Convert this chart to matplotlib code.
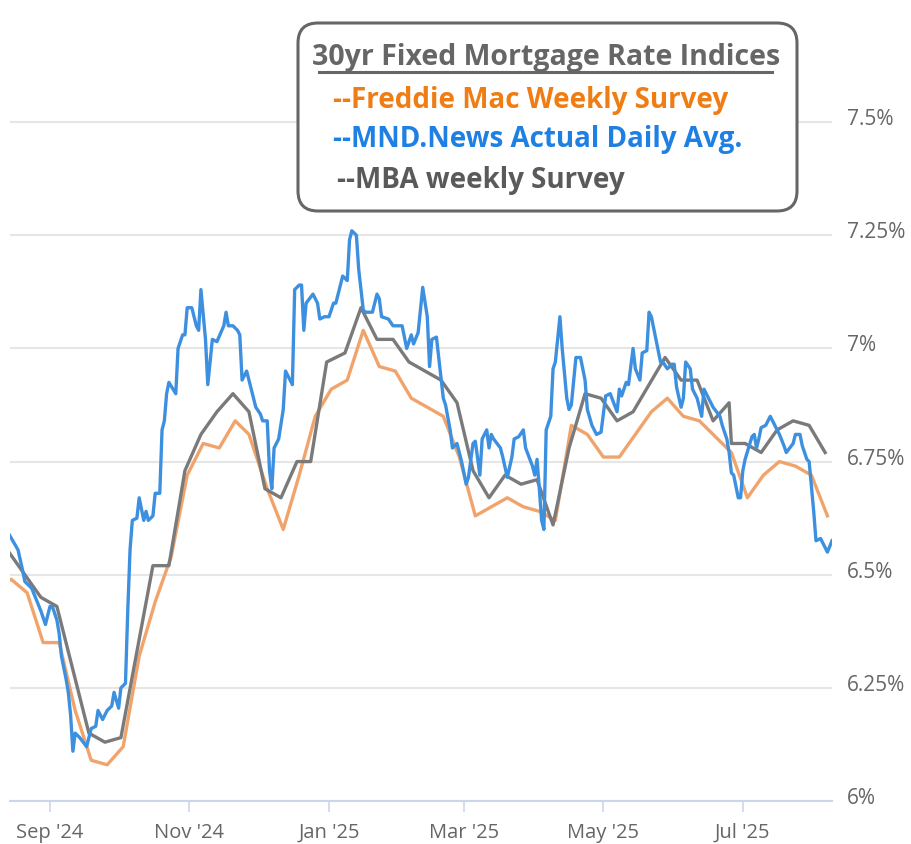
import pandas as pd
import matplotlib
matplotlib.use('Agg')
import matplotlib.pyplot as plt
from matplotlib.patches import FancyBboxPatch
from matplotlib.lines import Line2D
from matplotlib.transforms import ScaledTranslation

# Freddie Mac weekly survey (Thursdays)
freddie_dates = ['2024-08-08', '2024-08-15', '2024-08-22', '2024-08-29', '2024-09-05', '2024-09-12',
                 '2024-09-19', '2024-09-26', '2024-10-03', '2024-10-10', '2024-10-17', '2024-10-24',
                 '2024-10-31', '2024-11-07', '2024-11-14', '2024-11-21', '2024-11-27', '2024-12-05',
                 '2024-12-12', '2024-12-19', '2024-12-26', '2025-01-02', '2025-01-09', '2025-01-16',
                 '2025-01-23', '2025-01-30', '2025-02-06', '2025-02-13', '2025-02-20', '2025-02-27',
                 '2025-03-06', '2025-03-13', '2025-03-20', '2025-03-27', '2025-04-03', '2025-04-10',
                 '2025-04-17', '2025-04-24', '2025-05-01', '2025-05-08', '2025-05-15', '2025-05-22',
                 '2025-05-29', '2025-06-05', '2025-06-12', '2025-06-18', '2025-06-26', '2025-07-03',
                 '2025-07-10', '2025-07-17', '2025-07-24', '2025-07-31', '2025-08-07']
freddie_rates = [6.47, 6.49, 6.46, 6.35, 6.35, 6.20, 6.09, 6.08, 6.12, 6.32, 6.44, 6.54,
                 6.72, 6.79, 6.78, 6.84, 6.81, 6.69, 6.60, 6.72, 6.85, 6.91, 6.93, 7.04,
                 6.96, 6.95, 6.89, 6.87, 6.85, 6.76, 6.63, 6.65, 6.67, 6.65, 6.64, 6.62,
                 6.83, 6.81, 6.76, 6.76, 6.81, 6.86, 6.89, 6.85, 6.84, 6.81, 6.77, 6.67,
                 6.72, 6.75, 6.74, 6.72, 6.63]

# MBA weekly survey (Wednesdays)
mba_dates = ['2024-08-07', '2024-08-14', '2024-08-21', '2024-08-28', '2024-09-04', '2024-09-11',
             '2024-09-18', '2024-09-25', '2024-10-02', '2024-10-09', '2024-10-16', '2024-10-23',
             '2024-10-30', '2024-11-06', '2024-11-13', '2024-11-20', '2024-11-27', '2024-12-04',
             '2024-12-11', '2024-12-18', '2024-12-24', '2024-12-31', '2025-01-08', '2025-01-15',
             '2025-01-22', '2025-01-29', '2025-02-05', '2025-02-12', '2025-02-19', '2025-02-26',
             '2025-03-05', '2025-03-12', '2025-03-19', '2025-03-26', '2025-04-02', '2025-04-09',
             '2025-04-16', '2025-04-23', '2025-04-30', '2025-05-07', '2025-05-14', '2025-05-21',
             '2025-05-28', '2025-06-04', '2025-06-11', '2025-06-18', '2025-06-25', '2025-06-26',
             '2025-07-02', '2025-07-09', '2025-07-16', '2025-07-23', '2025-07-30', '2025-08-06']
mba_rates = [6.55, 6.55, 6.50, 6.45, 6.43, 6.29, 6.15, 6.13, 6.14, 6.33, 6.52, 6.52,
             6.73, 6.81, 6.86, 6.90, 6.86, 6.69, 6.67, 6.75, 6.75, 6.97, 6.99, 7.09,
             7.02, 7.02, 6.97, 6.95, 6.93, 6.88, 6.73, 6.67, 6.72, 6.70, 6.71, 6.61,
             6.78, 6.90, 6.89, 6.84, 6.86, 6.92, 6.98, 6.93, 6.93, 6.84, 6.88, 6.79,
             6.79, 6.77, 6.82, 6.84, 6.83, 6.77]

# MND daily index
mnd_dates = ['2024-08-14', '2024-08-18', '2024-08-20', '2024-08-21', '2024-08-22', '2024-08-24',
             '2024-08-26', '2024-08-28', '2024-08-30', '2024-09-01', '2024-09-02', '2024-09-04',
             '2024-09-05', '2024-09-06', '2024-09-08', '2024-09-09', '2024-09-10', '2024-09-11',
             '2024-09-12', '2024-09-14', '2024-09-17', '2024-09-19', '2024-09-21', '2024-09-22',
             '2024-09-24', '2024-09-26', '2024-09-28', '2024-09-29', '2024-10-01', '2024-10-02',
             '2024-10-04', '2024-10-05', '2024-10-06', '2024-10-07', '2024-10-09', '2024-10-10',
             '2024-10-12', '2024-10-13', '2024-10-14', '2024-10-16', '2024-10-17', '2024-10-19',
             '2024-10-20', '2024-10-21', '2024-10-22', '2024-10-23', '2024-10-26', '2024-10-27',
             '2024-10-29', '2024-10-30', '2024-10-31', '2024-11-02', '2024-11-04', '2024-11-05',
             '2024-11-06', '2024-11-08', '2024-11-09', '2024-11-11', '2024-11-13', '2024-11-16',
             '2024-11-17', '2024-11-18', '2024-11-20', '2024-11-22', '2024-11-23', '2024-11-24',
             '2024-11-26', '2024-11-28', '2024-11-30', '2024-12-02', '2024-12-03', '2024-12-05',
             '2024-12-06', '2024-12-07', '2024-12-08', '2024-12-10', '2024-12-12', '2024-12-13',
             '2024-12-14', '2024-12-16', '2024-12-17', '2024-12-19', '2024-12-20', '2024-12-21',
             '2024-12-22', '2024-12-25', '2024-12-27', '2024-12-28', '2024-12-30', '2025-01-01',
             '2025-01-03', '2025-01-04', '2025-01-07', '2025-01-09', '2025-01-10', '2025-01-11',
             '2025-01-13', '2025-01-14', '2025-01-16', '2025-01-17', '2025-01-20', '2025-01-22',
             '2025-01-23', '2025-01-24', '2025-01-27', '2025-01-29', '2025-02-02', '2025-02-04',
             '2025-02-06', '2025-02-07', '2025-02-09', '2025-02-11', '2025-02-13', '2025-02-14',
             '2025-02-15', '2025-02-17', '2025-02-18', '2025-02-20', '2025-02-21', '2025-02-23',
             '2025-02-24', '2025-02-26', '2025-02-28', '2025-03-02', '2025-03-03', '2025-03-05',
             '2025-03-06', '2025-03-08', '2025-03-09', '2025-03-11', '2025-03-12', '2025-03-13',
             '2025-03-14', '2025-03-17', '2025-03-18', '2025-03-20', '2025-03-22', '2025-03-23',
             '2025-03-25', '2025-03-27', '2025-03-28', '2025-03-31', '2025-04-01', '2025-04-02',
             '2025-04-03', '2025-04-04', '2025-04-05', '2025-04-06', '2025-04-08', '2025-04-09',
             '2025-04-10', '2025-04-12', '2025-04-13', '2025-04-15', '2025-04-16', '2025-04-17',
             '2025-04-19', '2025-04-21', '2025-04-23', '2025-04-24', '2025-04-26', '2025-04-28',
             '2025-04-30', '2025-05-02', '2025-05-04', '2025-05-07', '2025-05-08', '2025-05-09',
             '2025-05-11', '2025-05-12', '2025-05-14', '2025-05-15', '2025-05-17', '2025-05-18',
             '2025-05-20', '2025-05-21', '2025-05-22', '2025-05-24', '2025-05-26', '2025-05-27',
             '2025-05-29', '2025-05-31', '2025-06-01', '2025-06-02', '2025-06-04', '2025-06-05',
             '2025-06-06', '2025-06-08', '2025-06-09', '2025-06-11', '2025-06-13', '2025-06-14',
             '2025-06-16', '2025-06-18', '2025-06-21', '2025-06-22', '2025-06-24', '2025-06-25',
             '2025-06-26', '2025-06-27', '2025-06-28', '2025-06-29', '2025-06-30', '2025-07-01',
             '2025-07-02', '2025-07-05', '2025-07-06', '2025-07-07', '2025-07-08', '2025-07-09',
             '2025-07-11', '2025-07-13', '2025-07-15', '2025-07-17', '2025-07-19', '2025-07-20',
             '2025-07-23', '2025-07-24', '2025-07-26', '2025-07-27', '2025-07-29', '2025-07-30',
             '2025-08-01', '2025-08-02', '2025-08-04', '2025-08-05', '2025-08-07', '2025-08-09']
mnd_rates = [6.59, 6.555, 6.51, 6.485, 6.48, 6.47,
             6.445, 6.42, 6.39, 6.43, 6.43, 6.40,
             6.37, 6.32, 6.27, 6.24, 6.19, 6.11,
             6.15, 6.14, 6.12, 6.16, 6.165, 6.20,
             6.18, 6.20, 6.21, 6.24, 6.205, 6.25,
             6.26, 6.42, 6.555, 6.62, 6.625, 6.67,
             6.62, 6.64, 6.62, 6.63, 6.68, 6.68,
             6.82, 6.84, 6.90, 6.925, 6.90, 7.00,
             7.03, 7.03, 7.09, 7.09, 7.05, 7.04,
             7.13, 7.02, 6.92, 7.02, 7.015, 7.05,
             7.08, 7.05, 7.05, 7.04, 7.03, 6.93,
             6.95, 6.91, 6.87, 6.855, 6.84, 6.84,
             6.73, 6.69, 6.78, 6.80, 6.865, 6.95,
             6.94, 6.92, 7.13, 7.14, 7.14, 7.04,
             7.10, 7.12, 7.10, 7.065, 7.07, 7.07,
             7.10, 7.10, 7.16, 7.15, 7.24, 7.26,
             7.25, 7.175, 7.085, 7.08, 7.08, 7.12,
             7.11, 7.07, 7.065, 7.05, 7.05, 7.00,
             7.03, 7.01, 7.035, 7.135, 7.07, 6.96,
             7.02, 7.025, 6.98, 6.89, 6.875, 6.82,
             6.78, 6.79, 6.75, 6.70, 6.715, 6.79,
             6.795, 6.72, 6.80, 6.82, 6.78, 6.81,
             6.80, 6.78, 6.76, 6.715, 6.76, 6.80,
             6.805, 6.82, 6.78, 6.74, 6.72, 6.755,
             6.69, 6.62, 6.60, 6.82, 6.85, 6.955,
             6.97, 7.07, 7.00, 6.89, 6.865, 6.875,
             6.98, 6.98, 6.93, 6.865, 6.83, 6.81,
             6.815, 6.895, 6.90, 6.86, 6.91, 6.895,
             6.925, 6.92, 7.00, 6.955, 6.93, 6.99,
             6.995, 7.08, 7.07, 7.02, 6.97, 6.97,
             6.955, 6.965, 6.965, 6.915, 6.87, 6.89,
             6.97, 6.955, 6.91, 6.89, 6.85, 6.91,
             6.89, 6.87, 6.85, 6.83, 6.80, 6.77,
             6.725, 6.72, 6.695, 6.67, 6.67, 6.73,
             6.755, 6.805, 6.81, 6.78, 6.80, 6.825,
             6.83, 6.85, 6.83, 6.81, 6.785, 6.77,
             6.79, 6.81, 6.81, 6.785, 6.755, 6.75,
             6.64, 6.575, 6.58, 6.57, 6.55, 6.575]

y_ticks = [6.0, 6.25, 6.5, 6.75, 7.0, 7.25, 7.5]
y_labels = ['6%', '6.25%', '6.5%', '6.75%', '7%', '7.25%', '7.5%']
x_ticks = ['2024-09-01', '2024-11-01', '2025-01-01', '2025-03-01', '2025-05-01', '2025-07-01']
x_labels = ["Sep '24", "Nov '24", "Jan '25", "Mar '25", "May '25", "Jul '25"]

W, H = 911, 845
fig = plt.figure(figsize=(W / 100, H / 100), dpi=100)
ax = fig.add_axes([10 / W, 1 - 802 / H, 822 / W, 792 / H])

ax.plot(pd.to_datetime(freddie_dates), freddie_rates, color='#f0a46c', lw=2.4, solid_joinstyle='round')
ax.plot(pd.to_datetime(mba_dates), mba_rates, color='#7a7a7a', lw=2.4, solid_joinstyle='round')
ax.plot(pd.to_datetime(mnd_dates), mnd_rates, color='#3d90e0', lw=2.4, solid_joinstyle='round')

ax.set_xlim(pd.Timestamp('2024-08-14 12:00'), pd.Timestamp('2025-08-09'))
ax.set_ylim(6.0, 7.75)

ax.set_yticks(y_ticks)
ax.set_yticklabels(y_labels)
ax.yaxis.tick_right()
ax.tick_params(axis='y', length=0, pad=11, labelsize=15, labelcolor='#666666')
ax.set_xticks(pd.to_datetime(x_ticks))
ax.set_xticklabels(x_labels)
ax.tick_params(axis='x', length=8, width=1.2, color='#ccd6eb', pad=7, labelsize=14.5, labelcolor='#666666')
for lab in ax.get_yticklabels() + ax.get_xticklabels():
    lab.set_fontfamily(['Open Sans', 'DejaVu Sans'])
for lab in ax.get_yticklabels():
    lab.set_transform(lab.get_transform() + ScaledTranslation(0, 0.06, fig.dpi_scale_trans))

ax.grid(axis='y', color='#e6e6e6', lw=1.5)
ax.set_axisbelow(True)
for side in ['top', 'right', 'left']:
    ax.spines[side].set_visible(False)
ax.spines['bottom'].set_color('#ccd6eb')
ax.spines['bottom'].set_linewidth(1.5)

# legend box in pixel positions
def px(x, y):
    return x / 100, (H - y) / 100

tr = fig.dpi_scale_trans
x0, y0 = px(298, 212)
box = FancyBboxPatch((x0, y0), 499 / 100, 188 / 100, boxstyle='round,pad=0,rounding_size=0.2',
                     transform=tr, facecolor='white', edgecolor='#666666', lw=2.2, zorder=5)
fig.patches.append(box)
fig.text(*px(546, 65), '30yr Fixed Mortgage Rate Indices', transform=tr, ha='center', va='baseline',
         fontsize=20.5, fontweight='bold', color='#666666', family=['Open Sans', 'DejaVu Sans'], zorder=6)
fig.lines.append(Line2D([319 / 100, 772 / 100], [(H - 73) / 100] * 2, transform=tr, color='#666666', lw=2.2, zorder=6))
entries = [('--Freddie Mac Weekly Survey', '#f07d14', 333, 108),
           ('--MND.News Actual Daily Avg.', '#1f80e3', 333, 147),
           ('--MBA weekly Survey', '#5a5a5a', 337, 188)]
for txt, col, lx, ly in entries:
    fig.text(*px(lx, ly), txt, transform=tr, ha='left', va='baseline', fontsize=20,
             fontweight='bold', color=col, family=['Open Sans', 'DejaVu Sans'], zorder=6)

fig.savefig('out.png', dpi=100)
